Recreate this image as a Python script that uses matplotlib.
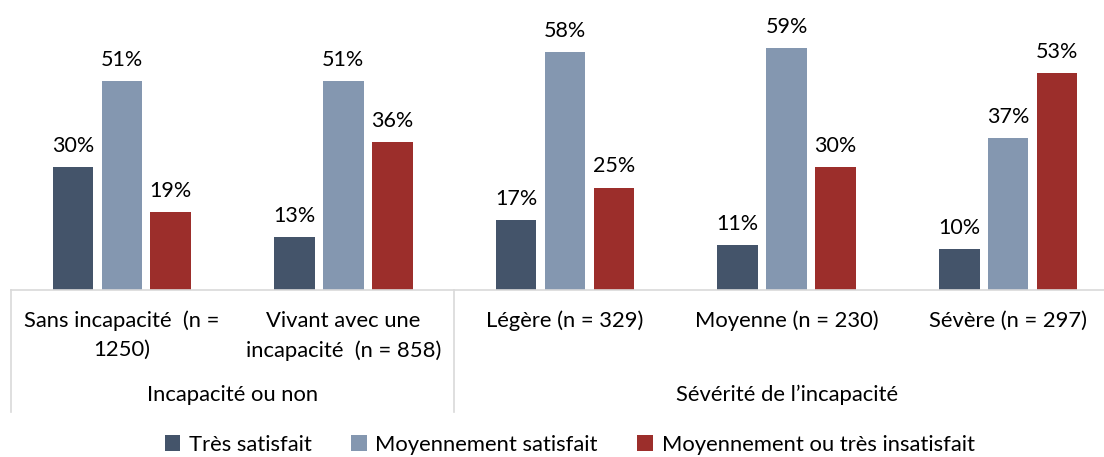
import matplotlib
matplotlib.use("Agg")
import matplotlib.pyplot as plt
import numpy as np

categories = ["Sans incapacité  (n =\n1250)", "Vivant avec une\nincapacité  (n = 858)",
              "Légère (n = 329)", "Moyenne (n = 230)", "Sévère (n = 297)"]
groups = ["Incapacité ou non", "Sévérité de l\u2019incapacité"]
series = ["Très satisfait", "Moyennement satisfait", "Moyennement ou très insatisfait"]
tres_satisfait = [30, 13, 17, 11, 10]
moyen_satisfait = [51, 51, 58, 59, 37]
insatisfait = [19, 36, 25, 30, 53]

colors = ["#44546a", "#8497b0", "#9c2e2b"]
grid_col = "#d9d9d9"
fs = 15.8

plt.rcParams['font.family'] = ['Lato', 'DejaVu Sans']

fig = plt.figure(figsize=(11.04, 4.57), dpi=100)
# axes run past the right edge, like the cropped original
ax = fig.add_axes([11 / 1104, 167 / 457, 1108 / 1104, 287 / 457])

x = np.arange(len(categories))
step = 0.221
width = 0.183
for i, (vals, col, lab) in enumerate(zip([tres_satisfait, moyen_satisfait, insatisfait], colors, series)):
    pos = x + (i - 1) * step
    bars = ax.bar(pos, vals, width=width, color=col, label=lab, edgecolor='none')
    for b, v in zip(bars, vals):
        ax.annotate(f"{v}%", xy=(b.get_x() + b.get_width() / 2, v), xytext=(0, 8),
                    textcoords="offset points", ha='center', va='bottom', fontsize=fs - 0.3)

ax.set_xlim(-0.5, 4.5)
ax.set_ylim(0, 70)
ax.set_yticks([])
ax.set_xticks(x)
ax.set_xticklabels(categories, fontsize=fs, linespacing=1.55)
ax.tick_params(axis='x', length=0, pad=15)
for s in ["top", "right", "left"]:
    ax.spines[s].set_visible(False)
ax.spines["bottom"].set_color(grid_col)
ax.spines["bottom"].set_linewidth(1.2)

# group separators and group labels under the axis
trans = ax.get_xaxis_transform()
for sx in [-0.5, 1.5]:
    ax.plot([sx, sx], [0, -122 / 287], color=grid_col, lw=1.2, transform=trans, clip_on=False)
ax.text(0.5, -105 / 287, groups[0], transform=trans, ha='center', va='center', fontsize=fs)
ax.text(3.0, -105 / 287, groups[1], transform=trans, ha='center', va='center', fontsize=fs)

fig.legend(loc='center', bbox_to_anchor=(0.516, 0.027), ncol=3, frameon=False,
           fontsize=fs, handlelength=0.7, handleheight=0.7, handletextpad=0.4,
           columnspacing=1.8, borderpad=0.1)

fig.savefig("out.png", dpi=100)
